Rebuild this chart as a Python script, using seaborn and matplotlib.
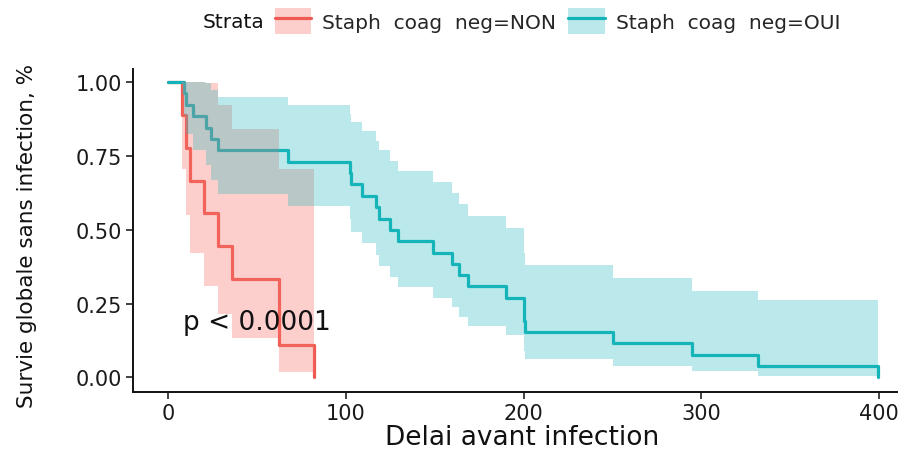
import numpy as np
import pandas as pd
import matplotlib
matplotlib.use("Agg")
import matplotlib.pyplot as plt
from matplotlib.patches import Patch
from matplotlib.lines import Line2D
import seaborn as sns

# ---- data ----
strata = ["Staph  coag  neg=NON", "Staph  coag  neg=OUI"]

time_non = [0, 7.5, 10, 12, 20, 28, 36, 62, 82]
surv_non = [1.0, 0.889, 0.778, 0.667, 0.556, 0.444, 0.333, 0.111, 0.0]
lower_non = [1.0, 0.706, 0.549, 0.420, 0.310, 0.214, 0.132, 0.018, 0.018]
upper_non = [1.0, 1.0, 1.0, 1.0, 0.997, 0.922, 0.840, 0.705, 0.705]

time_oui = [0, 9, 10, 14, 21, 24, 28, 67.5, 102, 103, 109, 117, 118.5, 124.5,
            129, 149, 159.5, 163.5, 168.5, 190, 200, 201, 250, 294.5, 332, 399.5]
surv_oui = [1.0, 0.962, 0.923, 0.885, 0.846, 0.808, 0.769, 0.731, 0.692, 0.654,
            0.615, 0.577, 0.538, 0.500, 0.462, 0.423, 0.385, 0.346, 0.308, 0.269,
            0.192, 0.154, 0.115, 0.077, 0.038, 0.0]
lower_oui = [1.0, 0.890, 0.826, 0.770, 0.718, 0.670, 0.623, 0.579, 0.536, 0.494,
             0.454, 0.415, 0.377, 0.340, 0.305, 0.270, 0.237, 0.204, 0.173, 0.143,
             0.088, 0.063, 0.040, 0.020, 0.006, 0.006]
upper_oui = [1.0, 1.0, 1.0, 1.0, 0.997, 0.974, 0.949, 0.923, 0.894, 0.865,
             0.834, 0.802, 0.769, 0.734, 0.699, 0.663, 0.625, 0.587, 0.548, 0.507,
             0.423, 0.379, 0.335, 0.291, 0.263, 0.263]

x_ticks = [0, 100, 200, 300, 400]
y_ticks = [0.0, 0.25, 0.5, 0.75, 1.0]
y_tick_labels = ["0.00", "0.25", "0.50", "0.75", "1.00"]
pval_text = "p < 0.0001"
x_label = "Delai avant infection"
y_label = "Survie globale sans infection, %"
legend_title = "Strata"

# ---- style ----
sns.set_style("ticks")
plt.rcParams["font.family"] = ["DejaVu Sans"]

line_colors = {strata[0]: "#EE5A52", strata[1]: "#12B4B9"}
band_colors = {strata[0]: "#F8766D", strata[1]: "#1FB5BA"}
band_alpha = {strata[0]: 0.35, strata[1]: 0.3}

df = pd.concat([
    pd.DataFrame({"time": time_non, "surv": surv_non, "group": strata[0]}),
    pd.DataFrame({"time": time_oui, "surv": surv_oui, "group": strata[1]}),
], ignore_index=True)

W, H = 915, 452
fig = plt.figure(figsize=(W / 100, H / 100), dpi=100)
ax = fig.add_axes([133 / W, (H - 393) / H, 764 / W, 323 / H])

sns.lineplot(data=df, x="time", y="surv", hue="group", hue_order=strata,
             palette=line_colors, drawstyle="steps-post", estimator=None,
             linewidth=2.3, legend=False, ax=ax, zorder=2)

for g, t, lo, hi in [(strata[0], time_non, lower_non, upper_non),
                     (strata[1], time_oui, lower_oui, upper_oui)]:
    ax.fill_between(t, lo, hi, step="post", color=band_colors[g],
                    alpha=band_alpha[g], linewidth=0, zorder=3)

ax.text(8, 0.187, pval_text, fontsize=19, ha="left", va="center", color="#111111")

ax.set_xlim(-19.9, 410.1)
ax.set_ylim(-0.0498, 1.045)
ax.set_xticks(x_ticks)
ax.set_yticks(y_ticks)
ax.set_yticklabels(y_tick_labels)
ax.tick_params(axis="both", length=5, width=1.2, color="#222222",
               labelsize=15, labelcolor="#1a1a1a", pad=3)
for s in ["left", "bottom"]:
    ax.spines[s].set_linewidth(1.4)
    ax.spines[s].set_color("#111111")
sns.despine(ax=ax)

ax.set_xlabel(x_label, fontsize=19, color="#111111")
ax.set_ylabel(y_label, fontsize=15.5, color="#111111")
ax.xaxis.set_label_coords((522 - 133) / 764, (393 - 425) / 323)
ax.yaxis.set_label_coords((37 - 133) / 764, 0.485)

# legend at top
fig.text(203 / W, 1 - 22 / H, legend_title, ha="left", va="center",
         fontsize=14.5, color="#111111")
handles = []
for g in strata:
    handles.append((Patch(facecolor=band_colors[g], alpha=band_alpha[g], edgecolor="none"),
                    Line2D([], [], color=line_colors[g], linewidth=2.3)))
fig.legend(handles, strata, loc="center left",
           bbox_to_anchor=(275 / W, 1 - 22 / H), ncol=2, frameon=False,
           fontsize=14.5, handlelength=1.8, handleheight=1.6, handletextpad=0.55,
           columnspacing=0.6, borderpad=0, borderaxespad=0)

fig.savefig("out.png", dpi=100)
